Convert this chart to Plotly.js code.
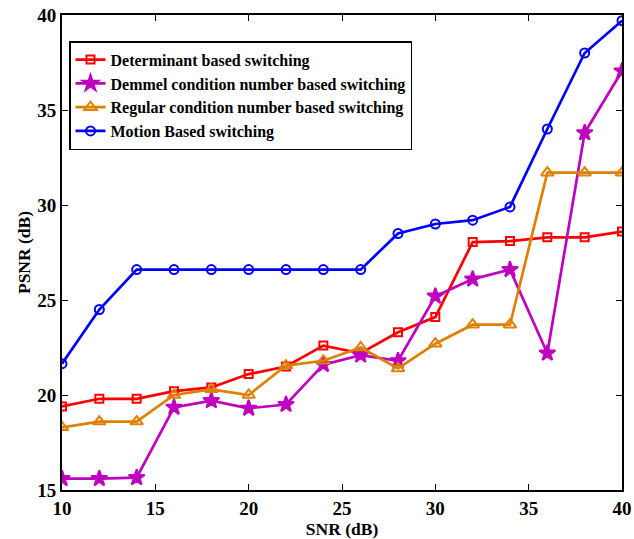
<!DOCTYPE html>
<html>
<head>
<meta charset="utf-8">
<script src="https://cdn.plot.ly/plotly-3.0.1.min.js"></script>
<style>html,body{margin:0;padding:0;background:#fff;}#chart{width:634px;height:539px;}</style>
</head>
<body>
<div id="chart"></div>
<script>
const snr = [10, 12, 14, 16, 18, 20, 22, 24, 26, 28, 30, 32, 34, 36, 38, 40];
const determinant = [19.4, 19.8, 19.8, 20.2, 20.4, 21.1, 21.5, 22.6, 22.2, 23.3, 24.1, 28.05, 28.1, 28.3, 28.3, 28.6];
const demmel = [15.6, 15.6, 15.65, 19.35, 19.7, 19.3, 19.5, 21.6, 22.1, 21.8, 25.2, 26.1, 26.6, 22.2, 33.8, 37.05];
const regular = [18.3, 18.6, 18.6, 20.0, 20.3, 20.0, 21.55, 21.8, 22.5, 21.4, 22.7, 23.7, 23.7, 31.7, 31.7, 31.7];
const motion = [21.65, 24.5, 26.6, 26.6, 26.6, 26.6, 26.6, 26.6, 26.6, 28.5, 29.0, 29.2, 29.9, 34.0, 38.0, 39.7];
const names = ["Determinant based switching", "Demmel condition number based switching", "Regular condition number based switching", "Motion Based switching"];
const xTicks = [10, 15, 20, 25, 30, 35, 40];
const yTicks = [15, 20, 25, 30, 35, 40];

const font = "Liberation Serif, Times New Roman, serif";
const traces = [
  {x: snr, y: determinant, name: names[0], color: "#ff0000", symbol: "square-open", size: 8},
  {x: snr, y: demmel, name: names[1], color: "#bf00bf", symbol: "star", size: 12},
  {x: snr, y: regular, name: names[2], color: "#e08000", symbol: "triangle-up-open", size: 11},
  {x: snr, y: motion, name: names[3], color: "#0000ff", symbol: "circle-open", size: 9}
].map(t => ({
  x: t.x, y: t.y, name: "<b>" + t.name + "</b>", type: "scatter", mode: "lines+markers",
  line: {color: t.color, width: 2.7},
  marker: {color: t.color, symbol: t.symbol, size: t.size, line: {color: t.color, width: 2}}
}));

const layout = {
  width: 634, height: 539,
  margin: {l: 62, r: 12, t: 15, b: 49},
  paper_bgcolor: "#fff", plot_bgcolor: "#fff",
  font: {family: font, color: "#000"},
  showlegend: true,
  legend: {
    x: 0.0125, y: 0.945, xanchor: "left", yanchor: "top",
    bordercolor: "#000", borderwidth: 1.5, bgcolor: "#fff",
    font: {family: font, size: 16, color: "#000"},
    tracegroupgap: 0, itemwidth: 30
  },
  xaxis: {
    range: [10, 40], tickvals: xTicks, ticktext: xTicks.map(v => "<b>" + v + "</b>"),
    ticks: "inside", ticklen: 6, tickwidth: 1, tickcolor: "#000",
    showline: true, linecolor: "#000", linewidth: 2, mirror: "ticks",
    showgrid: false, zeroline: false,
    tickfont: {family: font, size: 19},
    title: {text: "<b>SNR (dB)</b>", font: {family: font, size: 17.5}, standoff: 0}
  },
  yaxis: {
    range: [15, 40], tickvals: yTicks, ticktext: yTicks.map(v => "<b>" + v + "</b>"),
    ticks: "inside", ticklen: 6, tickwidth: 1, tickcolor: "#000",
    showline: true, linecolor: "#000", linewidth: 2, mirror: "ticks",
    showgrid: false, zeroline: false,
    tickfont: {family: font, size: 19},
    title: {text: "<b>PSNR (dB)</b>", font: {family: font, size: 17.5}, standoff: 2}
  }
};
Plotly.newPlot("chart", traces, layout, {displayModeBar: false, staticPlot: true});
</script>
</body>
</html>
